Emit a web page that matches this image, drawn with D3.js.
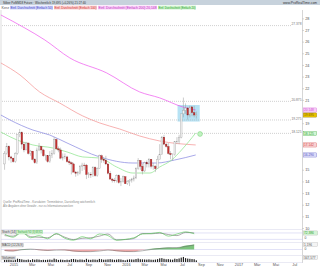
<!DOCTYPE html>
<html>
<head>
<meta charset="utf-8">
<title>Silber Wochenchart</title>
<script src="https://d3js.org/d3.v7.min.js"></script>
<style>
	body { margin: 0; background: #fff; }
	svg text { font-family: "Liberation Sans", Arial, sans-serif; }
</style>
</head>
<body>
<svg id="chart" width="320" height="267"></svg>
<script>
// weekly candles, first week starts monday 1 Dec 2014
var firstWeek = new Date(2014, 11, 1);

var open  = [15.5,16.4,17.0,16.1,16.0,15.7,16.4,18.0,18.2,17.2, 16.7,17.3,16.4,16.6,15.9,15.6,16.7,17.0,16.7,16.2,
             16.2,15.7,16.2,16.4,17.6,16.8,16.7,16.0,16.1,16.1, 15.7,15.6,15.5,14.8,14.7,14.7,15.3,15.4,15.4,14.6,
             14.6,14.6,15.2,14.5,15.1,16.2,15.9,15.8,15.5,14.7, 14.2,14.1,14.1,14.5,13.9,14.0,14.4,13.8,14.0,14.1,
             14.2,14.3,15.1,15.8,15.3,14.9,15.6,15.5,15.9,15.3, 15.3,15.1,15.9,16.3,17.8,17.2,17.0,16.4,16.3,16.3,
             17.4,17.4,17.8,19.8,20.1,20.3,19.7,20.4,19.9,19.7];
var high  = [16.6,17.3,17.1,16.2,16.0,16.5,18.0,18.5,18.3,17.4, 17.4,17.3,16.7,16.6,16.0,16.9,17.3,17.0,16.8,16.3,
             16.2,16.6,16.7,17.8,17.7,17.0,16.9,16.4,16.4,16.2, 15.9,15.7,15.6,14.9,14.9,15.4,15.6,15.6,15.5,14.8,
             14.8,15.3,15.3,15.2,16.3,16.3,16.1,16.2,15.5,14.9, 14.3,14.3,14.6,14.6,14.3,14.5,14.4,14.1,14.2,14.3,
             14.5,15.2,16.0,15.8,15.5,15.7,15.8,16.0,15.9,15.6, 15.4,16.2,17.2,17.9,18.0,17.3,17.3,16.6,16.4,17.4,
             17.8,18.0,19.8,21.2,20.7,20.4,20.5,20.4,20.5,20.0];
var low   = [15.0,16.3,15.8,15.6,15.6,15.6,16.3,17.8,16.8,16.5, 16.7,16.3,16.2,15.8,15.5,15.5,16.6,16.4,16.1,15.8,
             15.6,15.6,16.0,16.3,16.7,16.5,15.9,15.8,15.9,15.6, 15.4,14.6,14.8,14.4,14.5,14.6,14.9,15.0,14.2,14.3,
             14.3,14.4,14.4,14.4,15.1,15.6,15.6,15.4,14.6,14.2, 13.9,13.9,13.9,13.8,13.6,13.9,13.8,13.7,13.6,13.9,
             14.0,14.2,15.0,15.0,14.6,14.8,15.2,15.2,15.1,15.0, 14.8,15.1,15.9,16.3,17.1,16.9,16.3,15.9,15.8,16.2,
             17.2,17.2,17.7,19.5,19.8,19.3,19.5,19.6,19.5,19.4];
var close = [16.4,17.0,16.1,16.0,15.7,16.4,18.0,18.2,17.2,16.7, 17.3,16.4,16.6,15.9,15.6,16.7,17.0,16.7,16.2,16.25,
             15.7,16.2,16.4,17.6,16.8,16.7,16.0,16.1,16.15,15.7, 15.6,15.5,14.8,14.7,14.75,15.3,15.4,15.35,14.6,14.65,
             14.55,15.2,14.5,15.1,16.2,15.9,15.8,15.5,14.7,14.2, 14.1,14.05,14.5,13.9,14.0,14.4,13.8,14.0,14.1,14.2,
             14.3,15.1,15.8,15.3,14.9,15.6,15.5,15.9,15.3,15.35, 15.1,15.9,16.3,17.8,17.2,17.0,16.4,16.3,16.35,17.4,
             17.45,17.8,19.8,20.1,20.3,19.7,20.4,19.9,19.7,19.7];
var volume = [40,45,50,35,30,42,60,55,48,40, 38,45,35,50,42,48,44,36,40,38, 42,45,40,62,50,38,44,40,36,42,
              38,52,55,48,40,46,44,38,58,42, 40,46,44,40,56,50,42,44,48,52, 46,40,44,50,46,38,30,42,48,46,
              44,54,62,50,48,46,44,48,42,40, 44,52,66,70,58,50,52,46,42,60, 55,64,80,92,70,62,58,54,50,30];

// moving averages: [date, value]
var sma20  = [["2014-11-21",18.24],["2015-01-12",17.56],["2015-03-05",17.13],["2015-05-09",16.87],["2015-06-24",16.53],
              ["2015-08-14",16.10],["2015-10-08",16.01],["2015-12-02",15.24],["2016-01-24",14.72],["2016-03-19",14.72],
              ["2016-04-20",15.24],["2016-05-29",15.84],["2016-06-30",16.70],["2016-08-15",18.16]];
var sma50  = [["2014-11-21",19.70],["2014-12-21",19.27],["2015-03-05",18.41],["2015-04-29",17.98],["2015-06-24",17.30],
              ["2015-10-08",16.10],["2016-01-24",15.58],["2016-04-10",15.58],["2016-06-08",15.84],["2016-08-15",16.27]];
var sma100 = [["2014-11-21",24.17],["2015-01-22",23.14],["2015-03-27",21.68],["2015-05-31",20.73],["2015-08-14",19.62],
              ["2015-10-08",19.02],["2015-12-12",18.50],["2016-02-15",17.90],["2016-04-20",17.47],["2016-08-15",17.13]];
var sma200 = [["2014-11-21",28.29],["2015-02-07",27.17],["2015-04-13",26.14],["2015-07-03",24.60],["2015-10-31",23.31],
              ["2016-02-15",21.68],["2016-04-20",21.17],["2016-07-04",20.39],["2016-08-15",20.13]];

var levels = [27.378, 20.875, 19.275, 18.125];
var lastValues = [["20.148",20.13,"#f6cdf6","#d050d0"],["19.695",19.70,"#e8c200","#7a6000"],
                  ["18.125",18.11,"#d4f6d4","#30a030"],["17.142",17.13,"#f8d2d2","#d04040"],["16.290",16.27,"#dcdcf8","#5050c0"]];
// axis labels hidden behind the value boxes
var priceTicks = [10,11,12,13,14,15,19,21,22,23,24,25,26,27,28];

// every 4th week
var oscWeeks = [0,4,8,12,16,20,24,28,32,36,40,44,48,52,56,60,64,68,72,76,80,84,88];
var stochK = [70,40,85,35,55,25,75,30,12,45,25,70,55,12,20,35,70,75,85,50,70,90,72];
var stochD = [55,50,88,45,40,35,70,40,18,30,35,50,70,15,18,28,75,72,78,65,55,85,80];
var macdHist = [-0.30,-0.35,0.10,0.05,-0.15,-0.25,-0.05,-0.15,-0.40,-0.45,-0.40,-0.20,-0.10,-0.35,-0.45,-0.40,-0.10,0.15,0.30,0.40,0.35,0.80,1.00];
var macdSig  = [-0.20,-0.30,-0.05,0.08,-0.05,-0.20,-0.12,-0.10,-0.30,-0.42,-0.42,-0.30,-0.12,-0.25,-0.40,-0.42,-0.25,0.00,0.20,0.35,0.38,0.60,0.90];

var monthTicks = ["2015-01-01","2015-03-01","2015-05-01","2015-07-01","2015-09-01","2015-11-01",
                  "2016-01-01","2016-03-01","2016-05-01","2016-07-01","2016-09-01","2016-11-01",
                  "2017-01-01","2017-03-01","2017-05-01","2017-07-01"];
var monthNames = ["Jan","Feb","Mär","Apr","Mai","Jun","Jul","Aug","Sep","Okt","Nov","Dez"];

var parse = d3.timeParse("%Y-%m-%d");
var svg = d3.select("#chart");

var x = d3.scaleTime().domain([new Date(2015,0,1), new Date(2017,0,1)]).range([13.5, 238.5]);
var y = d3.scaleLinear().domain([10, 27]).range([228, 30]);
var yStoch = d3.scaleLinear().domain([0, 100]).range([241.5, 230.8]);
var yMacd = d3.scaleLinear().domain([-1, 1.2]).range([254.5, 243.5]);
var yVol = d3.scaleLinear().domain([0, 100]).range([262, 256.5]);

function weekDate(i) {
	return d3.timeDay.offset(d3.timeWeek.offset(firstWeek, i), 2);
}

// frame lines
svg.append("line").attr("x1",1).attr("x2",1).attr("y1",10).attr("y2",262).attr("stroke","#c8c8c8").attr("stroke-width",0.6);
svg.append("line").attr("x1",302.5).attr("x2",302.5).attr("y1",10).attr("y2",263).attr("stroke","#bbb").attr("stroke-width",0.6);
[229.5, 242.5, 255.5, 262.5].forEach(function(v) {
	svg.append("line").attr("x1",1).attr("x2",302.5).attr("y1",v).attr("y2",v).attr("stroke","#d4d4e8").attr("stroke-width",0.5);
});

// highlight box
svg.append("rect")
	.attr("x", x(parse("2016-06-17"))).attr("width", x(parse("2016-08-28")) - x(parse("2016-06-17")))
	.attr("y", y(20.56)).attr("height", y(19.14) - y(20.56))
	.attr("fill", "#b6e2f4");

// level lines
svg.selectAll(".lvl").data(levels).enter().append("line")
	.attr("x1", 2).attr("x2", 292)
	.attr("y1", function(d) { return y(d); }).attr("y2", function(d) { return y(d); })
	.attr("stroke", "#b0b0b0").attr("stroke-width", 0.6).attr("stroke-dasharray", "1,1");
svg.selectAll(".lvlt").data(levels).enter().append("text")
	.attr("x", 301.5).attr("y", function(d) { return y(d) - 0.4; })
	.attr("text-anchor", "end").attr("font-size", 3.3).attr("fill", "#777")
	.text(function(d) { return d.toFixed(3).replace(/0$/, ""); });

// moving averages
var maLine = d3.line()
	.x(function(d) { return x(parse(d[0])); })
	.y(function(d) { return y(d[1]); })
	.curve(d3.curveMonotoneX);
[[sma200,"#ee55ee"],[sma100,"#f39090"],[sma50,"#8484e0"],[sma20,"#88e488"]].forEach(function(m) {
	svg.append("path").datum(m[0]).attr("d", maLine)
		.attr("fill","none").attr("stroke", m[1]).attr("stroke-width", 0.7);
});

// candles
var idx = d3.range(open.length);
svg.selectAll(".wick").data(idx).enter().append("line")
	.attr("x1", function(i) { return x(weekDate(i)); })
	.attr("x2", function(i) { return x(weekDate(i)); })
	.attr("y1", function(i) { return y(high[i]); })
	.attr("y2", function(i) { return y(low[i]); })
	.attr("stroke", "#999").attr("stroke-width", 0.5);
svg.selectAll(".body").data(idx).enter().append("rect")
	.attr("x", function(i) { return x(weekDate(i)) - 0.8; })
	.attr("width", 1.6)
	.attr("y", function(i) { return y(Math.max(open[i], close[i])); })
	.attr("height", function(i) { return Math.max(0.6, Math.abs(y(open[i]) - y(close[i]))); })
	.attr("fill", function(i) { return close[i] >= open[i] ? "#f2f2f2" : "#c83030"; })
	.attr("stroke", function(i) { return close[i] >= open[i] ? "#a0a0a0" : "#8a2a2a"; })
	.attr("stroke-width", 0.35);

// sma20 marker
svg.append("circle").attr("cx", x(parse("2016-08-29"))).attr("cy", y(18.07)).attr("r", 2.4)
	.attr("fill", "#c2f2c2").attr("stroke", "#70d070").attr("stroke-width", 0.5);

// notes
svg.append("text").attr("x",3).attr("y",203).attr("font-size",2.8).attr("fill","#888")
	.attr("textLength",92).attr("lengthAdjust","spacingAndGlyphs")
	.text("Quelle: ProRealTime - Kursdaten: Terminbörse, Darstellung wöchentlich");
svg.append("text").attr("x",3).attr("y",206.5).attr("font-size",2.8).attr("fill","#888")
	.attr("textLength",70).attr("lengthAdjust","spacingAndGlyphs")
	.text("Alle Angaben ohne Gewähr - nur zu Informationszwecken");

// stochastic panel
var oscX = function(d, k) { return x(weekDate(oscWeeks[k])); };
[80, 20].forEach(function(v) {
	svg.append("line").attr("x1",1).attr("x2",302.5).attr("y1",yStoch(v)).attr("y2",yStoch(v))
		.attr("stroke","#c4c4ee").attr("stroke-width",0.5);
});
svg.append("path").datum(stochD)
	.attr("d", d3.line().x(oscX).y(function(d) { return yStoch(d); }).curve(d3.curveMonotoneX))
	.attr("fill","none").attr("stroke","#555").attr("stroke-width",0.5);
svg.append("path").datum(stochK)
	.attr("d", d3.line().x(oscX).y(function(d) { return yStoch(d); }).curve(d3.curveMonotoneX))
	.attr("fill","none").attr("stroke","#50c850").attr("stroke-width",0.6);

// macd panel
svg.append("line").attr("x1",1).attr("x2",302.5).attr("y1",yMacd(0)).attr("y2",yMacd(0))
	.attr("stroke","#c4c4ee").attr("stroke-width",0.5);
svg.append("path").datum(macdHist)
	.attr("d", d3.area().x(oscX).y0(yMacd(0)).y1(function(d) { return yMacd(Math.max(d, 0)); }).curve(d3.curveMonotoneX))
	.attr("fill","#7cc47c");
svg.append("path").datum(macdHist)
	.attr("d", d3.area().x(oscX).y0(yMacd(0)).y1(function(d) { return yMacd(Math.min(d, 0)); }).curve(d3.curveMonotoneX))
	.attr("fill","#eea8a8");
svg.append("path").datum(macdSig)
	.attr("d", d3.line().x(oscX).y(function(d) { return yMacd(d); }).curve(d3.curveMonotoneX))
	.attr("fill","none").attr("stroke","#666").attr("stroke-width",0.5);

// volume panel
svg.selectAll(".vol").data(idx).enter().append("rect")
	.attr("x", function(i) { return x(weekDate(i)) - 0.6; })
	.attr("width", 1.2)
	.attr("y", function(i) { return yVol(volume[i]); })
	.attr("height", function(i) { return yVol(0) - yVol(volume[i]); })
	.attr("fill", "#222");

// panel headers
function header(px, py, w, txt, fill, stroke, color) {
	svg.append("rect").attr("x",px).attr("y",py).attr("width",w).attr("height",3.6)
		.attr("fill",fill).attr("stroke",stroke).attr("stroke-width",0.3);
	svg.append("text").attr("x",px+0.6).attr("y",py+2.9).attr("font-size",3).attr("fill",color)
		.attr("textLength",w-1.2).attr("lengthAdjust","spacingAndGlyphs").text(txt);
}
header(1.5, 230.4, 15, "Stoch (14)", "#e4e4e4", "#b0b0b0", "#444");
header(16.8, 230.4, 26, "Stochastik %D (3)  68,912", "#d6f4d6", "#80d080", "#2a9a2a");
header(1.5, 243.4, 22, "MACD (12,26,9)", "#e4e4e4", "#b0b0b0", "#444");
header(1.5, 256.1, 14, "Volumen", "#e4e4e4", "#b0b0b0", "#444");

// right axis
var yAxis = svg.append("g").attr("transform", "translate(302.5,0)")
	.call(d3.axisRight(y).tickValues(priceTicks).tickSize(1.5).tickPadding(1.2));
yAxis.select(".domain").remove();
yAxis.selectAll("line").attr("stroke", "#999").attr("stroke-width", 0.4);
yAxis.selectAll("text").attr("font-size", 3.8).attr("fill", "#555").attr("font-family", null);

// last values
var box = svg.selectAll(".lv").data(lastValues).enter().append("g");
box.append("rect").attr("x",303.2).attr("width",13.5).attr("height",4.2)
	.attr("y", function(d) { return y(d[1]) - 2.1; })
	.attr("fill", function(d) { return d[2]; }).attr("stroke", function(d) { return d[3]; }).attr("stroke-width",0.3);
box.append("text").attr("x",304).attr("y", function(d) { return y(d[1]) + 1.2; })
	.attr("font-size",3.2).attr("fill", function(d) { return d[3]; }).text(function(d) { return d[0]; });

// panel value boxes
[["72,386",233,"#30a030","#d6f4d6"],["1,196",244.5,"#555","#f4f4f4"],["347,577",257.5,"#555","#f4f4f4"]].forEach(function(b) {
	svg.append("rect").attr("x",303.2).attr("y",b[1]-2.1).attr("width",14.5).attr("height",4.2)
		.attr("fill",b[3]).attr("stroke","#aaa").attr("stroke-width",0.3);
	svg.append("text").attr("x",304).attr("y",b[1]+1.2).attr("font-size",3.2).attr("fill",b[2]).text(b[0]);
});
[["0",238.6],["0",249.6]].forEach(function(b) {
	svg.append("text").attr("x",304.5).attr("y",b[1]).attr("font-size",3.4).attr("fill","#555").text(b[0]);
});

// bottom axis
var xAxis = svg.append("g").attr("transform", "translate(0,262.5)")
	.call(d3.axisBottom(x).tickValues(monthTicks.map(parse)).tickSize(0).tickPadding(0.8)
		.tickFormat(function(d) { return d.getMonth() === 0 ? d.getFullYear() : monthNames[d.getMonth()]; }));
xAxis.select(".domain").remove();
xAxis.selectAll("text").attr("font-size", 3.8).attr("fill", "#555").attr("font-family", null);

// title bar and legend
svg.append("rect").attr("x",0).attr("y",0).attr("width",320).attr("height",5).attr("fill","#c7d2dc");
svg.append("text").attr("x",3).attr("y",3.8).attr("font-size",3.4).attr("fill","#333")
	.attr("textLength",83).attr("lengthAdjust","spacingAndGlyphs")
	.text("Silber PoMM18 Future · Wöchentlich    19,695 (+0,26%)    21:27:40");
svg.append("text").attr("x",283).attr("y",3.8).attr("font-size",3.4).attr("fill","#333")
	.attr("textLength",34).attr("lengthAdjust","spacingAndGlyphs").text("www.ProRealTime.com");

svg.append("text").attr("x",1.5).attr("y",8.7).attr("font-size",3.2).attr("fill","#555")
	.attr("textLength",7.5).attr("lengthAdjust","spacingAndGlyphs").text("Kerz");
var legend = [["Einf. Durchschnitt (Einfach 50)",10,43,"#d4d8fa","#4040c8"],
              ["Einf. Durchschnitt (Einfach 100)",54,43,"#fad2d2","#d03030"],
              ["Einf. Durchschnitt (Einfach 200) 20,148",98,59,"#f8d0f8","#c030c0"],
              ["Einf. Durchschnitt (Einfach 20)",158,38,"#cff2cf","#20a020"]];
legend.forEach(function(l) {
	svg.append("rect").attr("x",l[1]).attr("y",5.6).attr("width",l[2]).attr("height",3.9).attr("fill",l[3]);
	svg.append("text").attr("x",l[1]+0.5).attr("y",8.7).attr("font-size",3.2).attr("fill",l[4])
		.attr("textLength",l[2]-1).attr("lengthAdjust","spacingAndGlyphs").text(l[0]);
});
</script>
</body>
</html>
